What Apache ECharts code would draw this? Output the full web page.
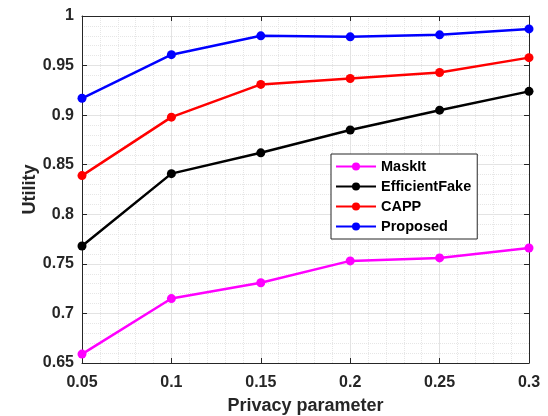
<!DOCTYPE html>
<html>
<head>
<meta charset="utf-8">
<script src="https://cdn.jsdelivr.net/npm/echarts@6/dist/echarts.min.js"></script>
<style>html,body{margin:0;padding:0;background:#fff}#c{width:548px;height:416px}</style>
</head>
<body>
<div id="c"></div>
<script>
var xValues = [0.05, 0.1, 0.15, 0.2, 0.25, 0.3];
var seriesNames = ['MaskIt', 'EfficientFake', 'CAPP', 'Proposed'];
var maskIt = [0.659, 0.715, 0.731, 0.753, 0.756, 0.766];
var efficientFake = [0.768, 0.841, 0.862, 0.885, 0.905, 0.924];
var capp = [0.839, 0.898, 0.931, 0.937, 0.943, 0.958];
var proposed = [0.917, 0.961, 0.980, 0.979, 0.981, 0.987];
var colors = ['#ff00ff', '#000000', '#ff0000', '#0000ff'];

var allData = [maskIt, efficientFake, capp, proposed];
var FONT = 'Liberation Sans, Arial, sans-serif';
var axisColor = '#262626';

function fmt(v){ return String(parseFloat(v.toFixed(2))); }

var chart = echarts.init(document.getElementById('c'));
var series = allData.map(function(d, i){
  return {
    name: seriesNames[i], type: 'line',
    xAxisIndex: 0, yAxisIndex: 0,
    data: d.map(function(v, j){ return [xValues[j], v]; }),
    symbol: 'circle', symbolSize: 9,
    lineStyle: {width: 2.5, color: colors[i]},
    itemStyle: {color: colors[i]},
    z: 10 - i
  };
});
var baseAxis = {
  axisLine: {show: true, onZero: false, lineStyle: {color: axisColor, width: 1}},
  axisTick: {show: true, inside: true, length: 5, lineStyle: {color: axisColor}},
  minorTick: {show: false, splitNumber: 5}
};
chart.setOption({
  animation: false,
  grid: {left: 82, right: 19, top: 16, bottom: 53, containLabel: false, outerBoundsMode: 'none'},
  legend: {
    orient: 'vertical', left: 331, top: 154,
    data: seriesNames,
    itemWidth: 40, itemHeight: 10, itemGap: 5,
    backgroundColor: '#fff', borderColor: axisColor, borderWidth: 1, borderRadius: 0,
    padding: [5, 6, 5, 4],
    textStyle: {fontFamily: FONT, fontWeight: 'bold', fontSize: 14.5, color: '#000'}
  },
  xAxis: [
    Object.assign({}, baseAxis, {
      type: 'value', min: 0.05, max: 0.3, interval: 0.05, position: 'bottom',
      name: 'Privacy parameter', nameLocation: 'middle', nameGap: 34, nameMoveOverlap: false,
      nameTextStyle: {fontFamily: FONT, fontWeight: 'bold', fontSize: 18, color: axisColor},
      axisLabel: {fontFamily: FONT, fontWeight: 'bold', fontSize: 16, color: axisColor, margin: 12, formatter: fmt},
      splitLine: {show: true, lineStyle: {color: '#e3e3e3', width: 1}},
      minorSplitLine: {show: true, lineStyle: {color: '#e6e6e6', type: 'dotted', width: 1}}
    }),
    Object.assign({}, baseAxis, {
      type: 'value', min: 0.05, max: 0.3, interval: 0.05, position: 'top',
      axisLabel: {show: false}, splitLine: {show: false}
    })
  ],
  yAxis: [
    Object.assign({}, baseAxis, {
      type: 'value', min: 0.65, max: 1, interval: 0.05, position: 'left',
      name: 'Utility', nameLocation: 'middle', nameGap: 43, nameMoveOverlap: false,
      nameTextStyle: {fontFamily: FONT, fontWeight: 'bold', fontSize: 18, color: axisColor},
      axisLabel: {fontFamily: FONT, fontWeight: 'bold', fontSize: 16, color: axisColor, margin: 8, formatter: fmt},
      splitLine: {show: true, lineStyle: {color: '#e3e3e3', width: 1}},
      minorSplitLine: {show: true, lineStyle: {color: '#e6e6e6', type: 'dotted', width: 1}}
    }),
    Object.assign({}, baseAxis, {
      type: 'value', min: 0.65, max: 1, interval: 0.05, position: 'right',
      axisLabel: {show: false}, splitLine: {show: false}
    })
  ],
  series: series
});
</script>
</body>
</html>
